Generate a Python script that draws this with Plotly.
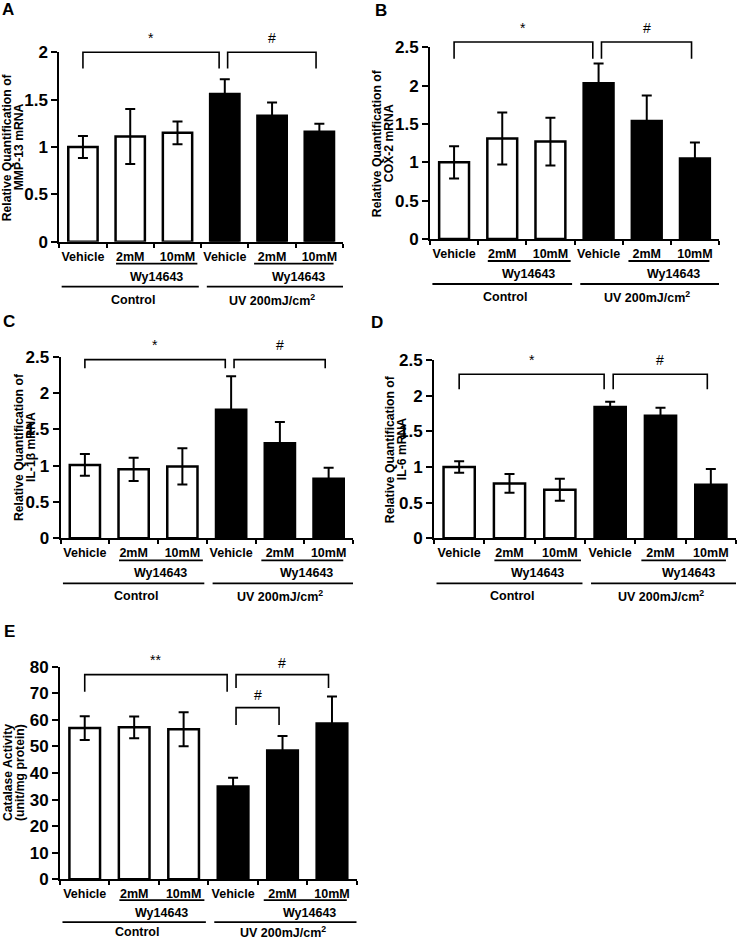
import plotly.graph_objects as go

W, H = 737, 940
FONT = "Liberation Sans, Arial, sans-serif"

# ---------------- data ----------------
categories = ["Vehicle", "2mM", "10mM", "Vehicle", "2mM", "10mM"]
group_labels = ["Control", "UV 200mJ/cm<sup>2</sup>"]
treatment_label = "Wy14643"

mmp13_mean = [1.00, 1.11, 1.15, 1.56, 1.33, 1.16]
mmp13_sem = [0.115, 0.29, 0.12, 0.155, 0.14, 0.085]

cox2_mean = [1.00, 1.31, 1.27, 2.03, 1.54, 1.05]
cox2_sem = [0.21, 0.34, 0.31, 0.26, 0.33, 0.21]

il1b_mean = [1.01, 0.95, 0.99, 1.77, 1.31, 0.82]
il1b_sem = [0.15, 0.16, 0.25, 0.46, 0.29, 0.15]

il6_mean = [1.00, 0.77, 0.68, 1.84, 1.72, 0.75]
il6_sem = [0.08, 0.13, 0.155, 0.075, 0.11, 0.22]

catalase_mean = [56.9, 57.2, 56.5, 34.9, 48.5, 58.6]
catalase_sem = [4.5, 4.1, 6.4, 3.3, 5.4, 10.2]

# significance brackets: (from index, to index, label, top, leg bottom, label y) in data units
brackets_a = [(0, 3, "*", 2.0, 1.83, 2.15), (3, 5, "#", 2.0, 1.83, 2.15)]
brackets_b = [(0, 3, "*", 2.57, 2.35, 2.75), (3, 5, "#", 2.57, 2.35, 2.75)]
brackets_c = [(0, 3, "*", 2.46, 2.34, 2.66), (3, 5, "#", 2.46, 2.34, 2.66)]
brackets_d = [(0, 3, "*", 2.30, 2.09, 2.50), (3, 5, "#", 2.30, 2.09, 2.50)]
brackets_e = [(0, 3, "**", 77, 70.6, 82.5), (3, 5, "#", 77, 72, 81.5), (3, 4, "#", 64.6, 58.1, 69.4)]

# ---------------- layout config ----------------
panels = [
    dict(letter="A", letter_xy=(8, 10), mean=mmp13_mean, sem=mmp13_sem, ymax=2.0, dtick=0.5,
         title=["Relative Quantification of", "MMP-13 mRNA"], box=(59.3, 52.3, 343, 241.7),
         title_off=46, brackets=brackets_a, below=1.0, glab=58),
    dict(letter="B", letter_xy=(381, 11), mean=cox2_mean, sem=cox2_sem, ymax=2.5, dtick=0.5,
         title=["Relative Quantification of", "COX-2 mRNA"], box=(430, 47.3, 719, 239),
         title_off=47, brackets=brackets_b, below=1.0, glab=58),
    dict(letter="C", letter_xy=(9, 321), mean=il1b_mean, sem=il1b_sem, ymax=2.5, dtick=0.5,
         title=["Relative Quantification of", "IL-1β mRNA"], box=(60.5, 356.7, 353, 538.3),
         title_off=36, brackets=brackets_c, below=1.0, glab=58),
    dict(letter="D", letter_xy=(377, 322), mean=il6_mean, sem=il6_sem, ymax=2.5, dtick=0.5,
         title=["Relative Quantification of", "IL-6 mRNA"], box=(434, 360, 736, 538.3),
         title_off=38, brackets=brackets_d, below=1.0, glab=58),
    dict(letter="E", letter_xy=(9, 631), mean=catalase_mean, sem=catalase_sem, ymax=80, dtick=10,
         title=["Catalase Activity", "(unit/mg protein)"], box=(60, 666.7, 356.7, 879.3),
         title_off=46, brackets=brackets_e, below=0.95, glab=52.5),
]

bar_colors = ["white"] * 3 + ["black"] * 3
xs = list(range(len(categories)))

fig = go.Figure()
shapes = []
annotations = []


def px_x(v):
    return v / W


def px_y(v):
    return 1 - v / H


def bold(size):
    return dict(family=FONT, size=size, color="black", weight="bold")


for k, p in enumerate(panels):
    n = "" if k == 0 else str(k + 1)
    xa, ya = "x" + n, "y" + n
    l, t, r, b = p["box"]
    s = p["below"]

    fig.add_trace(go.Bar(
        x=xs, y=p["mean"], xaxis=xa, yaxis=ya, width=0.62,
        marker=dict(color=bar_colors, line=dict(color="black", width=2.5)),
        error_y=dict(type="data", array=p["sem"], visible=True, color="black",
                     thickness=2, width=5),
        showlegend=False, hoverinfo="skip",
    ))

    fig.layout["xaxis" + n] = dict(
        domain=[px_x(l), px_x(r)], anchor=ya, range=[-0.5, 5.5],
        tickmode="array", tickvals=xs, ticktext=categories, ticks="",
        showline=True, linecolor="black", linewidth=2, showgrid=False, zeroline=False,
        tickfont=bold(12.5), ticklabelstandoff=2, fixedrange=True, automargin=False,
        minor=dict(ticks="outside", ticklen=4, tickwidth=2, tickcolor="black",
                   tickmode="linear", tick0=0.5, dtick=1, showgrid=False),
    )
    fig.layout["yaxis" + n] = dict(
        domain=[px_y(b), px_y(t)], anchor=xa, range=[0, p["ymax"]],
        tickmode="linear", tick0=0, dtick=p["dtick"], ticks="outside", ticklen=6,
        tickwidth=2, tickcolor="black", showline=True, linecolor="black", linewidth=2,
        showgrid=False, zeroline=False, tickfont=bold(17), fixedrange=True,
        automargin=False,
    )

    # y axis title (two lines, tight spacing)
    cx = l - p["title_off"]
    cy = (t + b) / 2
    for li, line in enumerate(p["title"]):
        annotations.append(dict(
            xref="paper", yref="paper", x=px_x(cx + (li - 0.5) * 12), y=px_y(cy),
            text=line, textangle=-90, showarrow=False, xanchor="center", yanchor="middle",
            font=bold(12.2),
        ))

    # panel letter
    lx, ly = p["letter_xy"]
    annotations.append(dict(xref="paper", yref="paper", x=px_x(lx), y=px_y(ly),
                            text=p["letter"], showarrow=False, xanchor="center",
                            yanchor="middle", font=bold(17)))

    # group annotation lines / labels under the axis
    for (x0, x1) in [(0.7, 2.42), (3.62, 5.3)]:
        shapes.append(dict(type="line", xref=xa, yref="paper", x0=x0, x1=x1,
                           y0=px_y(b + 22 * s), y1=px_y(b + 22 * s),
                           line=dict(color="black", width=1.8)))
    for (x0, x1) in [(-0.45, 2.45), (2.62, 5.5)]:
        shapes.append(dict(type="line", xref=xa, yref="paper", x0=x0, x1=x1,
                           y0=px_y(b + 45 * s), y1=px_y(b + 45 * s),
                           line=dict(color="black", width=1.8)))
    for xc in (1.55, 4.55):
        annotations.append(dict(xref=xa, yref="paper", x=xc, y=px_y(b + 35 * s),
                                text=treatment_label, showarrow=False, xanchor="center",
                                yanchor="middle", font=bold(12.5)))
    for xc, g in zip((1.05, 4.0), group_labels):
        annotations.append(dict(xref=xa, yref="paper", x=xc, y=px_y(b + p["glab"]),
                                text=g, showarrow=False, xanchor="center",
                                yanchor="middle", font=bold(12.5)))

    # significance brackets
    ymax = p["ymax"]
    for (i, j, lab, top, bot, ly_) in p["brackets"]:
        x0 = i + (0.06 if i == 3 else 0.0)
        x1 = j - (0.12 if j == 3 else 0.07)
        shapes.append(dict(
            type="path", xref=xa, yref=ya + " domain",
            path=f"M {x0},{bot / ymax} L {x0},{top / ymax} L {x1},{top / ymax} L {x1},{bot / ymax}",
            line=dict(color="black", width=1.6),
        ))
        annotations.append(dict(xref=xa, yref=ya + " domain", x=(x0 + x1) / 2, y=ly_ / ymax,
                                text=lab, showarrow=False, xanchor="center", yanchor="middle",
                                font=dict(family=FONT, size=14, color="black")))

fig.update_layout(
    width=W, height=H, margin=dict(l=0, r=0, t=0, b=0, pad=0, autoexpand=False),
    paper_bgcolor="white", plot_bgcolor="white",
    shapes=shapes, annotations=annotations, showlegend=False,
    font=dict(family=FONT, color="black"),
)

fig.write_html(
    "out.html",
    config={"displayModeBar": False, "staticPlot": True},
    post_script="document.body.style.margin='0';document.body.style.overflow='hidden';",
)
